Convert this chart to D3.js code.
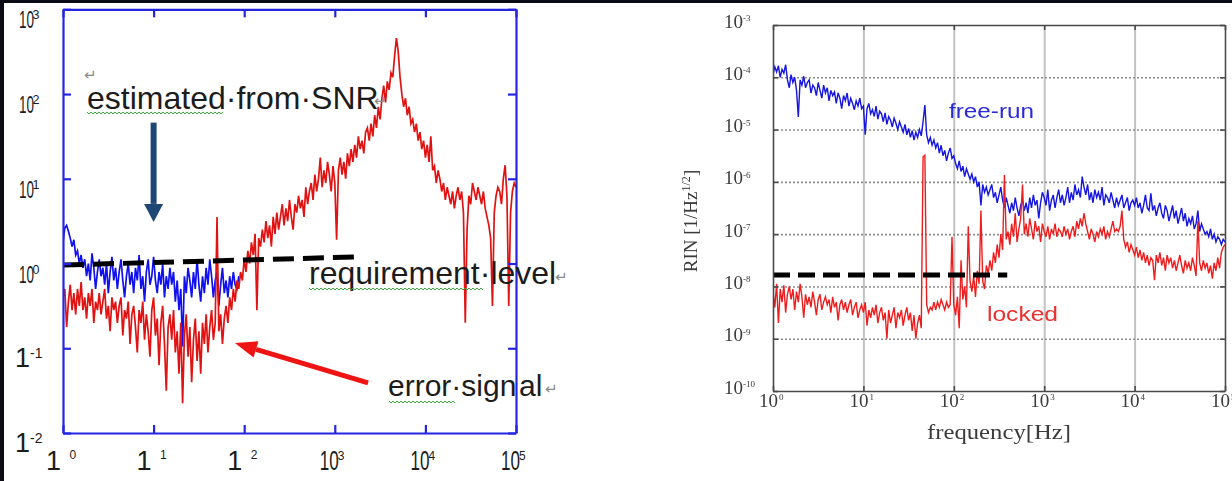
<!DOCTYPE html>
<html><head><meta charset="utf-8">
<script src="https://cdn.jsdelivr.net/npm/d3@7"></script>
<style>
html,body{margin:0;padding:0;background:#fff;}
svg{display:block;}
</style></head><body>
<svg id="c" width="1232" height="481"></svg>
<script>
// Spectra are sampled on a logarithmic frequency grid starting at 1 Hz,
// one value every 0.02 decade. Values are log10 of the amplitude.
const BIN_DECADES = 0.02;

// Left panel: error-signal spectrum (red)
const errorSignalLog = [
  -0.40,-0.30,-0.75,-0.45,-0.25,-0.55,-0.35,-0.60,-0.30,-0.50,
  -0.22,-0.55,-0.40,-0.65,-0.35,-0.50,-0.30,-0.70,-0.45,-0.55,
  -0.35,-0.60,-0.45,-0.30,-0.65,-0.50,-0.80,-0.40,-0.55,-0.45,
  -0.70,-0.50,-0.40,-0.85,-0.55,-0.65,-0.45,-0.95,-0.60,-0.50,
  -0.75,-1.05,-0.55,-0.70,-0.45,-0.90,-0.60,-0.80,-1.10,-0.55,
  -0.40,-0.85,-0.65,-1.20,-0.70,-0.50,-0.95,-1.50,-0.75,-0.60,
  -0.90,-0.55,-1.05,-0.80,-1.30,-0.70,-1.65,-0.85,-0.60,-1.10,
  -0.75,-1.40,-0.90,-0.65,-1.15,-0.80,-1.30,-0.70,-0.95,-0.60,
  -1.05,-0.75,-0.55,-0.90,-0.70, 0.55,-0.80,-0.60,-0.95,-0.65,
  -0.50,-0.70,-0.40,-0.55,-0.30,-0.45,-0.20,-0.30,-0.10,-0.20,
   0.05,-0.10, 0.15, 0.00, 0.25, 0.10, 0.35,-0.55, 0.30, 0.20,
   0.40, 0.25, 0.50, 0.30, 0.45, 0.20, 0.55, 0.35, 0.60, 0.40,
   0.55, 0.70, 0.45, 0.65, 0.50, 0.75, 0.55, 0.40, 0.70, 0.60,
   0.80, 0.65, 0.75, 0.55, 0.90, 0.70, 0.85, 0.95, 0.75, 1.05,
   0.85, 1.00, 1.25, 0.90, 1.10, 0.95, 1.20, 1.05, 0.85, 1.15,
   0.95, 0.28, 1.10, 1.25, 1.05, 1.20, 1.00, 1.30, 1.15, 1.35,
   1.20, 1.40, 1.25, 1.50, 1.35, 1.45, 1.30, 1.55, 1.60, 1.45,
   1.65, 1.50, 1.75, 1.60, 1.85, 1.70, 1.95, 2.10, 1.90, 2.15,
   2.05, 2.25, 2.20, 2.45, 2.66, 2.50, 2.20, 2.00, 1.85, 1.95,
   1.75, 1.85, 1.65, 1.70, 1.55, 1.65, 1.45, 1.55, 1.35, 1.45,
   1.25, 1.40, 1.20, 1.50, 1.10, 1.15, 0.95, 1.10, 1.00, 0.85,
   0.95, 0.75, 0.90, 0.80, 0.70, 0.85, 0.65, 0.80, 0.90, 0.75,
   0.85, 0.60,-0.70, 0.40, 0.80, 0.70, 0.95, 0.85, 0.75, 0.90,
   0.80, 0.70, 0.85, 0.65, 0.55, 0.45, 0.30,-0.50, 0.60, 0.80,
   0.90, 0.85, 0.70, 1.00, 1.16, 0.80,-0.50, 0.60, 0.85, 0.95,
   0.90
];

// Left panel: level estimated from SNR (blue), 1 Hz to ~90 Hz
const snrEstimateLog = [
   0.25, 0.42, 0.45, 0.38, 0.30, 0.20, 0.28, 0.10, 0.15, 0.00,
   0.10,-0.05, 0.05,-0.15, 0.00,-0.20, 0.12,-0.05,-0.30,-0.10,
   0.05,-0.15,-0.05,-0.25, 0.00,-0.35,-0.10, 0.08,-0.20,-0.05,
  -0.30,-0.10, 0.05,-0.20,-0.40,-0.15, 0.00,-0.25,-0.10,-0.35,
  -0.05,-0.20, 0.10,-0.30,-0.15,-0.45,-0.10, 0.05,-0.25,-0.15,
   0.08,-0.20,-0.35,-0.10,-0.25, 0.00,-0.40,-0.15,-0.30,-0.05,
  -0.25,-0.10,-0.45,-0.20,-0.55,-0.30,-0.98,-0.15,-0.35,-0.05,
  -0.20,-0.40,-0.10,-0.30, 0.05,-0.25,-0.45,-0.15,-0.35,-0.05,
  -0.25, 0.05,-0.15,-0.40,-0.20,-0.10,-0.50,-0.25,-0.05,-0.35,
  -0.20,-0.40,-0.15,-0.30,-0.10,-0.25,-0.30,-0.15
];

// Left panel: requirement level (dashed), endpoints [Hz, amplitude]
const requirementLevel = [[1, 0.96], [2000, 1.2]];

const leftYTickExp = [3, 2, 1, 0, -1, -2];
const leftYTickLabels = [["10","3"],["10","2"],["10","1"],["10","0"],["1","-1"],["1","-2"]];
const leftXTickExp = [0, 1, 2, 3, 4, 5];
const leftXTickLabels = [["1","0"],["1","1"],["1","2"],["10","3"],["10","4"],["10","5"]];

// Right panel: relative intensity noise, free-running laser (blue)
const freeRunLog = [
  -3.95,-3.80,-3.90,-3.78,-4.00,-3.85,-3.92,-3.76,-4.05,-4.20,
  -3.95,-4.10,-4.00,-4.25,-4.76,-4.05,-4.15,-3.98,-4.20,-4.10,
  -4.05,-4.30,-4.15,-4.20,-4.35,-4.10,-4.25,-4.40,-4.15,-4.30,
  -4.20,-4.45,-4.25,-4.35,-4.28,-4.50,-4.30,-4.40,-4.60,-4.35,
  -4.45,-4.30,-4.55,-4.40,-4.50,-4.62,-4.45,-4.55,-4.40,-4.60,
  -4.55,-5.10,-4.60,-4.50,-4.70,-4.62,-4.75,-4.55,-4.80,-4.65,
  -4.70,-4.85,-4.68,-4.90,-4.75,-4.82,-4.95,-4.78,-4.88,-5.00,
  -4.85,-4.95,-5.05,-4.90,-5.10,-4.98,-5.15,-5.02,-5.20,-5.05,
  -5.15,-5.00,-5.12,-4.85,-4.53,-5.10,-5.25,-5.15,-5.30,-5.20,
  -5.35,-5.25,-5.45,-5.30,-5.50,-5.40,-5.60,-5.45,-5.35,-5.55,
  -5.50,-5.65,-5.75,-5.60,-5.80,-5.70,-5.90,-5.75,-5.85,-5.95,
  -5.85,-6.00,-5.90,-6.10,-6.00,-6.45,-6.05,-6.20,-6.10,-6.25,
  -6.15,-6.05,-6.30,-6.20,-6.40,-6.25,-6.10,-6.35,-6.50,-6.30,
  -6.45,-6.60,-6.40,-6.55,-6.30,-6.50,-6.65,-6.45,-6.35,-6.55,
  -6.40,-6.60,-6.30,-6.50,-6.25,-6.45,-6.35,-6.70,-6.40,-6.20,
  -6.30,-6.45,-6.15,-6.55,-6.35,-6.25,-6.50,-6.30,-6.15,-6.40,
  -6.25,-6.45,-6.30,-6.10,-6.40,-6.20,-6.35,-6.05,-6.25,-6.15,
  -6.30,-5.90,-6.10,-6.25,-6.05,-6.35,-6.20,-6.40,-6.15,-6.30,
  -6.20,-6.35,-6.10,-6.45,-6.25,-6.30,-6.40,-6.20,-6.35,-6.50,
  -6.30,-6.45,-6.35,-6.25,-6.50,-6.40,-6.30,-6.55,-6.40,-6.35,
  -6.45,-6.30,-6.50,-6.40,-6.60,-6.45,-6.25,-6.50,-6.55,-6.22,
  -6.55,-6.45,-6.65,-6.50,-6.40,-6.60,-6.70,-6.45,-6.55,-6.75,
  -6.60,-6.45,-6.70,-6.55,-6.80,-6.65,-6.50,-6.75,-6.60,-6.85,
  -6.70,-6.80,-6.65,-6.90,-6.80,-6.55,-6.95,-6.80,-6.90,-7.00,
  -6.95,-7.05,-6.90,-7.10,-7.00,-7.15,-7.05,-7.10,-7.20,-7.10,
  -7.15
];

// Right panel: relative intensity noise, locked laser (red)
const lockedLog = [
  -8.10,-8.40,-7.95,-8.70,-8.05,-8.30,-7.98,-8.50,-8.15,-8.00,
  -8.25,-8.05,-8.45,-8.10,-8.30,-7.95,-8.20,-8.60,-8.15,-8.35,
  -8.20,-8.40,-8.10,-8.30,-8.55,-8.25,-8.15,-8.45,-8.30,-8.20,
  -8.35,-8.25,-8.50,-8.20,-8.40,-8.30,-8.65,-8.35,-8.25,-8.45,
  -8.30,-8.50,-8.35,-8.25,-8.55,-8.40,-8.30,-8.60,-8.45,-8.35,
  -8.50,-8.30,-8.75,-8.45,-8.60,-8.40,-8.55,-8.35,-8.70,-8.50,
  -8.40,-8.65,-8.50,-9.00,-8.45,-8.70,-8.55,-8.40,-8.80,-8.50,
  -8.60,-8.45,-8.75,-8.55,-8.40,-8.65,-8.50,-8.85,-8.55,-9.00,
  -8.70,-8.55,-8.80,-5.52,-5.49,-8.35,-8.50,-8.40,-8.45,-8.30,
  -8.45,-8.30,-8.40,-8.25,-8.35,-8.45,-8.30,-8.40,-8.35,-7.05,
  -8.35,-8.55,-8.20,-8.80,-7.50,-8.25,-8.00,-8.40,-6.85,-7.90,
  -8.10,-7.80,-8.20,-7.70,-7.95,-6.55,-7.90,-8.05,-7.60,-7.75,
  -7.50,-7.70,-7.35,-7.55,-7.20,-7.45,-7.00,-7.30,-5.87,-7.10,
  -6.95,-7.20,-6.80,-7.05,-6.60,-7.15,-6.90,-6.70,-6.05,-7.00,
  -6.80,-7.05,-6.70,-6.90,-7.10,-6.75,-6.95,-6.85,-7.15,-6.80,
  -6.95,-7.05,-6.85,-7.10,-6.90,-7.00,-6.80,-7.05,-6.90,-6.95,
  -7.05,-6.85,-7.00,-6.90,-7.10,-6.95,-6.85,-7.05,-6.75,-6.90,
  -6.70,-6.85,-6.60,-6.80,-6.95,-7.10,-6.90,-7.00,-7.15,-6.95,
  -7.05,-6.90,-7.00,-6.85,-7.10,-6.95,-7.05,-6.90,-6.75,-6.95,
  -6.90,-6.95,-6.85,-6.55,-7.10,-7.25,-7.15,-7.35,-7.20,-7.30,
  -7.40,-7.25,-7.45,-7.30,-7.50,-7.35,-7.55,-7.40,-7.60,-7.45,
  -7.50,-7.88,-7.40,-7.55,-7.35,-7.60,-7.45,-7.70,-7.40,-7.55,
  -7.45,-7.65,-7.50,-7.70,-7.55,-7.40,-7.60,-7.75,-7.50,-7.65,
  -7.55,-7.70,-7.45,-7.60,-7.80,-6.75,-7.55,-7.70,-7.50,-7.65,
  -7.55,-7.75,-7.60,-7.85,-7.55,-7.70,-7.45,-7.65,-7.35,-7.25,
  -7.20
];

// Right panel: requirement (dashed), endpoints [Hz, RIN]
const rinRequirement = [[1, 1.66e-8], [390, 1.66e-8]];

const rightYTickExp = [-3, -4, -5, -6, -7, -8, -9, -10];
const rightXTickExp = [0, 1, 2, 3, 4, 5];

// ---------------------------------------------------------------
const svg = d3.select("#c");
const defs = svg.append("defs");
const pow10 = e => Math.pow(10, e);
const toSeries = arr => arr.map((e, i) => ({ f: pow10(i * BIN_DECADES), v: pow10(e) }));

svg.append("rect").attr("width", 1232).attr("height", 481).attr("fill", "#fff");
// dark slide edges
svg.append("rect").attr("x", 0).attr("y", 0).attr("width", 1232).attr("height", 3).attr("fill", "#0b0b16");
svg.append("rect").attr("x", 0).attr("y", 0).attr("width", 4).attr("height", 481).attr("fill", "#0b0b16");

// ======================= LEFT PANEL =======================
const L = { x0: 63, x1: 516, y0: 9.3, y1: 433 };
const xL = d3.scaleLog().domain([1, 1e5]).range([L.x0, L.x1]);
const yL = d3.scaleLog().domain([1e-2, 1e3]).range([L.y1, L.y0]);
const gL = svg.append("g");

defs.append("clipPath").attr("id", "clipL").append("rect")
  .attr("x", L.x0).attr("y", L.y0).attr("width", L.x1 - L.x0).attr("height", L.y1 - L.y0);

const lineL = d3.line().x(d => xL(d.f)).y(d => yL(d.v));
const plotL = gL.append("g").attr("clip-path", "url(#clipL)");
plotL.append("path").datum(toSeries(snrEstimateLog))
  .attr("d", lineL).attr("fill", "none").attr("stroke", "#1010f0").attr("stroke-width", 1.7);
plotL.append("path").datum(toSeries(errorSignalLog))
  .attr("d", lineL).attr("fill", "none").attr("stroke", "#e01212").attr("stroke-width", 1.7);
plotL.append("path").datum(requirementLevel.map(([f, v]) => ({ f, v })))
  .attr("d", lineL).attr("fill", "none").attr("stroke", "#000").attr("stroke-width", 5)
  .attr("stroke-dasharray", "21,9");

// frame with inward ticks
const frameBlue = "#2525e0";
const decadeVals = leftXTickExp.map(pow10);
const leftYVals = leftYTickExp.map(pow10);
function styleAxis(g, color, w) {
  g.selectAll("path,line").attr("stroke", color).attr("stroke-width", w);
  g.selectAll("text").remove();
}
gL.append("g").attr("transform", `translate(0,${L.y1})`)
  .call(d3.axisBottom(xL).tickValues(decadeVals).tickSizeInner(-8).tickSizeOuter(0).tickFormat(""))
  .call(g => styleAxis(g, frameBlue, 2.2));
gL.append("g").attr("transform", `translate(0,${L.y0})`)
  .call(d3.axisTop(xL).tickValues(decadeVals).tickSizeInner(-8).tickSizeOuter(0).tickFormat(""))
  .call(g => styleAxis(g, frameBlue, 2.2));
gL.append("g").attr("transform", `translate(${L.x0},0)`)
  .call(d3.axisLeft(yL).tickValues(leftYVals).tickSizeInner(-8).tickSizeOuter(0).tickFormat(""))
  .call(g => styleAxis(g, frameBlue, 2.2));
gL.append("g").attr("transform", `translate(${L.x1},0)`)
  .call(d3.axisRight(yL).tickValues(leftYVals).tickSizeInner(-8).tickSizeOuter(0).tickFormat(""))
  .call(g => styleAxis(g, frameBlue, 2.2));

// tick labels
const sans = "'Liberation Sans', Arial, sans-serif";
const ink = "#1c1c1c";
leftYTickLabels.forEach(([base, sup], i) => {
  const ty = yL(pow10(leftYTickExp[i])) + 19;
  if (base === "10") {
    gL.append("text").attr("x", 19).attr("y", ty).attr("font-family", sans).attr("font-size", 23)
      .attr("textLength", 15).attr("lengthAdjust", "spacingAndGlyphs").attr("fill", ink).text(base);
    gL.append("text").attr("x", 32.5).attr("y", ty - 9).attr("font-family", sans).attr("font-size", 12.5)
      .attr("fill", ink).text(sup);
  } else {
    gL.append("text").attr("x", 15).attr("y", ty).attr("font-family", sans).attr("font-size", 27)
      .attr("fill", ink).text(base);
    gL.append("text").attr("x", 30).attr("y", ty - 9).attr("font-family", sans).attr("font-size", 14)
      .attr("fill", ink).text(sup);
  }
});
leftXTickLabels.forEach(([base, sup], i) => {
  const tx = xL(pow10(leftXTickExp[i]));
  const by = 470;
  if (base === "10") {
    gL.append("text").attr("x", tx - 15).attr("y", by).attr("font-family", sans).attr("font-size", 27)
      .attr("textLength", 19).attr("lengthAdjust", "spacingAndGlyphs").attr("fill", ink).text(base);
    gL.append("text").attr("x", tx + 3).attr("y", by - 10).attr("font-family", sans).attr("font-size", 12)
      .attr("fill", ink).text(sup);
  } else {
    gL.append("text").attr("x", tx - 17).attr("y", by).attr("font-family", sans).attr("font-size", 27)
      .attr("fill", ink).text(base);
    gL.append("text").attr("x", tx + 6.5).attr("y", by - 11).attr("font-family", sans).attr("font-size", 12)
      .attr("fill", ink).text(sup);
  }
});

// annotations
const markGray = "#8a8a8a";
const symFont = "'DejaVu Sans', sans-serif";
function wavy(g, xa, xb, y) {
  let d = `M${xa},${y}`;
  for (let x = xa, k = 0; x < xb; x += 2, k++) d += `L${x + 2},${y + (k % 2 ? 0 : 2)}`;
  g.append("path").attr("d", d).attr("fill", "none").attr("stroke", "#3aa83a").attr("stroke-width", 1);
}
gL.append("text").attr("x", 84).attr("y", 80).attr("font-family", symFont).attr("font-size", 15)
  .attr("fill", markGray).text("\u21B5");
gL.append("text").attr("x", 87).attr("y", 109).attr("font-family", sans).attr("font-size", 32)
  .attr("fill", ink).text("estimated\u00B7from\u00B7SNR");
gL.append("text").attr("x", 374).attr("y", 106).attr("font-family", symFont).attr("font-size", 15)
  .attr("fill", markGray).text("\u21B5");
wavy(gL, 87, 223, 112);

gL.append("text").attr("x", 309).attr("y", 284).attr("font-family", sans).attr("font-size", 32)
  .attr("fill", ink).text("requirement\u00B7level");
gL.append("text").attr("x", 555).attr("y", 282).attr("font-family", symFont).attr("font-size", 15)
  .attr("fill", markGray).text("\u21B5");
wavy(gL, 309, 482, 288);

gL.append("text").attr("x", 388).attr("y", 396).attr("font-family", sans).attr("font-size", 30)
  .attr("fill", ink).text("error\u00B7sign");
gL.append("text").attr("x", 519).attr("y", 396).attr("font-family", sans).attr("font-size", 30)
  .attr("fill", ink).text("al");
gL.append("text").attr("x", 545).attr("y", 394).attr("font-family", symFont).attr("font-size", 15)
  .attr("fill", markGray).text("\u21B5");
wavy(gL, 389, 455, 401);

// arrows drawn in data coordinates
function arrow(g, from, to, color, width, headLen, headW) {
  const x1 = xL(from[0]), y1 = yL(from[1]), x2 = xL(to[0]), y2 = yL(to[1]);
  const a = Math.atan2(y2 - y1, x2 - x1);
  const bx = x2 - headLen * Math.cos(a), by = y2 - headLen * Math.sin(a);
  g.append("line").attr("x1", x1).attr("y1", y1).attr("x2", bx).attr("y2", by)
    .attr("stroke", color).attr("stroke-width", width);
  const nx = -Math.sin(a) * headW / 2, ny = Math.cos(a) * headW / 2;
  g.append("path").attr("d", `M${x2},${y2}L${bx + nx},${by + ny}L${bx - nx},${by - ny}Z`).attr("fill", color);
}
arrow(gL, [10, 46], [10, 3.1], "#1f4775", 6, 18, 19);
arrow(gL, [2330, 0.039], [79, 0.115], "#ee1414", 5, 22, 17);

// ======================= RIGHT PANEL =======================
const R = { x0: 773, x1: 1225, y0: 25, y1: 391 };
const xR = d3.scaleLog().domain([1, 1e5]).range([R.x0, R.x1]);
const yR = d3.scaleLog().domain([1e-10, 1e-3]).range([R.y1, R.y0]);

defs.append("filter").attr("id", "soft").attr("x", "-5%").attr("y", "-5%").attr("width", "110%").attr("height", "110%")
  .append("feGaussianBlur").attr("stdDeviation", 0.6);
const gR = svg.append("g").attr("filter", "url(#soft)");

const innerX = rightXTickExp.slice(1, -1).map(pow10);
const innerY = rightYTickExp.slice(1, -1).map(pow10);
// grid
gR.append("g").attr("transform", `translate(0,${R.y1})`)
  .call(d3.axisBottom(xR).tickValues(innerX).tickSizeInner(-(R.y1 - R.y0)).tickSizeOuter(0).tickFormat(""))
  .call(g => { g.select(".domain").remove(); g.selectAll("line").attr("stroke", "#c2c2c2").attr("stroke-width", 2); });
gR.append("g").attr("transform", `translate(${R.x0},0)`)
  .call(d3.axisLeft(yR).tickValues(innerY).tickSizeInner(-(R.x1 - R.x0)).tickSizeOuter(0).tickFormat(""))
  .call(g => { g.select(".domain").remove(); g.selectAll("line").attr("stroke", "#8c8c8c").attr("stroke-width", 1.6).attr("stroke-dasharray", "2,2"); });

defs.append("clipPath").attr("id", "clipR").append("rect")
  .attr("x", R.x0).attr("y", R.y0).attr("width", R.x1 - R.x0).attr("height", R.y1 - R.y0);
const lineR = d3.line().x(d => xR(d.f)).y(d => yR(d.v));
const plotR = gR.append("g").attr("clip-path", "url(#clipR)");
plotR.append("path").datum(toSeries(freeRunLog))
  .attr("d", lineR).attr("fill", "none").attr("stroke", "#1414e0").attr("stroke-width", 1.4);
plotR.append("path").datum(toSeries(lockedLog))
  .attr("d", lineR).attr("fill", "none").attr("stroke", "#ee1e1e").attr("stroke-width", 1.4);
plotR.append("path").datum(rinRequirement.map(([f, v]) => ({ f, v })))
  .attr("d", lineR).attr("fill", "none").attr("stroke", "#000").attr("stroke-width", 5)
  .attr("stroke-dasharray", "17,8");

// frame and inward ticks
const frameGray = "#4a4a4a";
const allX = rightXTickExp.map(pow10), allY = rightYTickExp.map(pow10);
[["axisBottom", R.y1, xR, allX], ["axisTop", R.y0, xR, allX]].forEach(([fn, pos, sc, vals]) => {
  gR.append("g").attr("transform", `translate(0,${pos})`)
    .call(d3[fn](sc).tickValues(vals).tickSizeInner(-5).tickSizeOuter(0).tickFormat(""))
    .call(g => styleAxis(g, frameGray, 1.6));
});
[["axisLeft", R.x0, yR, allY], ["axisRight", R.x1, yR, allY]].forEach(([fn, pos, sc, vals]) => {
  gR.append("g").attr("transform", `translate(${pos},0)`)
    .call(d3[fn](sc).tickValues(vals).tickSizeInner(-5).tickSizeOuter(0).tickFormat(""))
    .call(g => styleAxis(g, frameGray, 1.6));
});

const serif = "'Liberation Serif', 'Times New Roman', serif";
const gray = "#3a3a3a";
rightYTickExp.forEach(e => {
  const ty = yR(pow10(e));
  gR.append("text").attr("x", 743).attr("y", ty + 2.5).attr("text-anchor", "end")
    .attr("font-family", serif).attr("font-size", 19).attr("fill", gray).text("10");
  gR.append("text").attr("x", 743).attr("y", ty - 4).attr("font-family", serif).attr("font-size", 9)
    .attr("fill", gray).text("-" + Math.abs(e));
});
rightXTickExp.forEach(e => {
  const tx = xR(pow10(e));
  gR.append("text").attr("x", tx - 14).attr("y", 407).attr("font-family", serif).attr("font-size", 19)
    .attr("fill", gray).text("10");
  gR.append("text").attr("x", tx + 6).attr("y", 400).attr("font-family", serif).attr("font-size", 9)
    .attr("fill", gray).text(String(e));
});
gR.append("text").attr("x", (R.x0 + R.x1) / 2).attr("y", 439).attr("text-anchor", "middle")
  .attr("font-family", serif).attr("font-size", 22).attr("textLength", 144).attr("lengthAdjust", "spacingAndGlyphs")
  .attr("fill", gray).text("frequency[Hz]");
const yTitle = gR.append("text").attr("transform", "translate(697,221) rotate(-90)").attr("text-anchor", "middle")
  .attr("font-family", serif).attr("font-size", 19).attr("fill", gray);
yTitle.append("tspan").text("RIN [1/Hz");
yTitle.append("tspan").attr("dy", -7).attr("font-size", 12).text("1/2");
yTitle.append("tspan").attr("dy", 7).text("]");

gR.append("text").attr("x", 949).attr("y", 118).attr("font-family", sans).attr("font-size", 20)
  .attr("textLength", 85).attr("lengthAdjust", "spacingAndGlyphs").attr("fill", "#2a2ad8").text("free-run");
gR.append("text").attr("x", 987).attr("y", 321).attr("font-family", sans).attr("font-size", 20)
  .attr("textLength", 71).attr("lengthAdjust", "spacingAndGlyphs").attr("fill", "#e83030").text("locked");
</script>
</body></html>
